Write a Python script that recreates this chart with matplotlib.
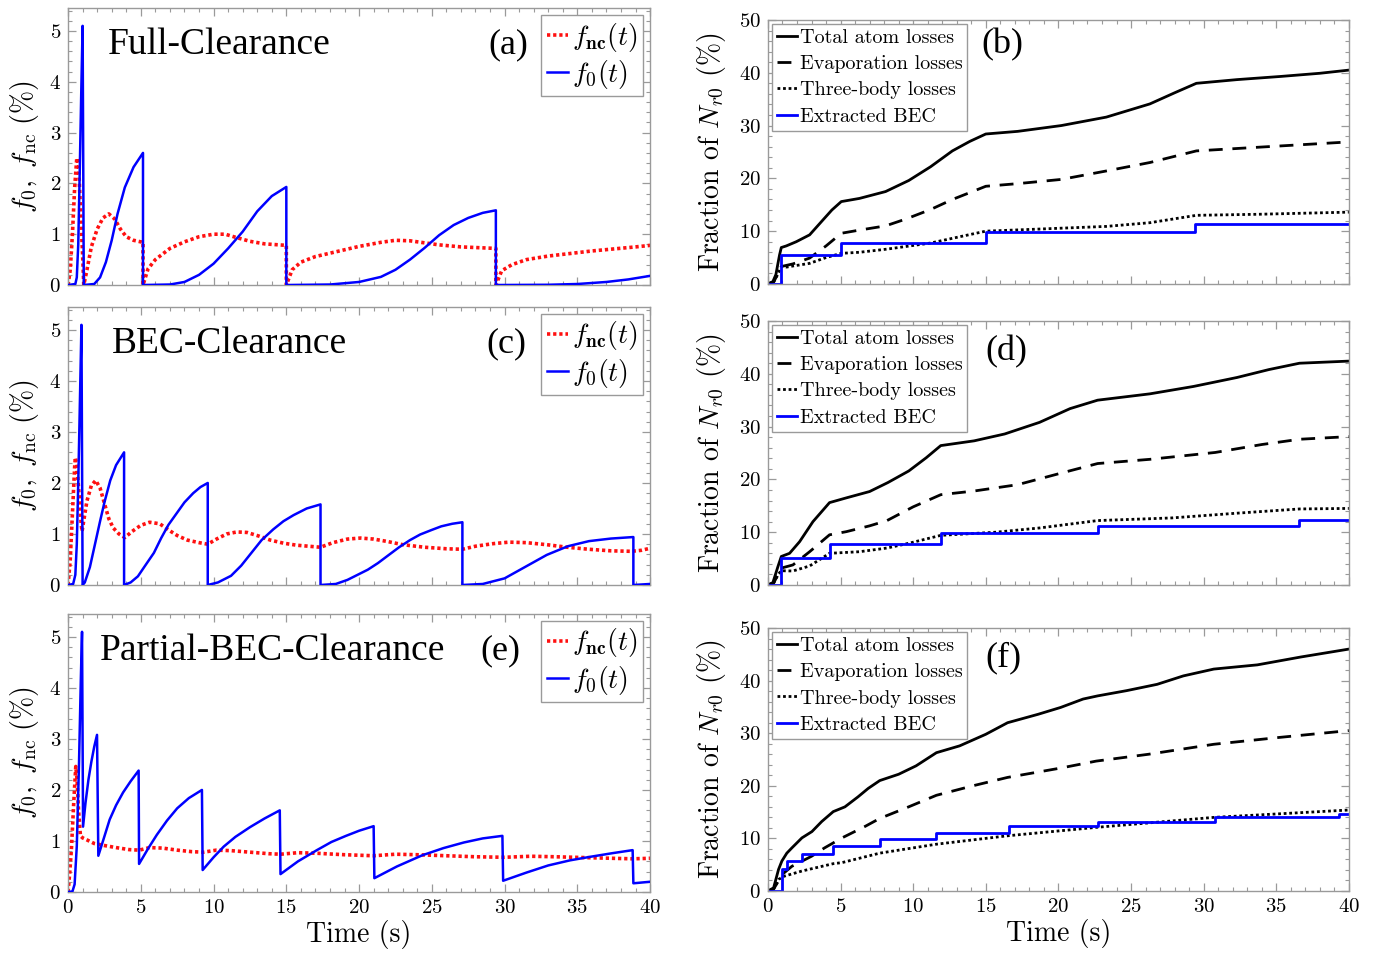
import matplotlib
matplotlib.use("Agg")
import matplotlib.pyplot as plt
from matplotlib.ticker import MultipleLocator

plt.rcParams['font.family'] = ['cmr10', 'DejaVu Serif']
plt.rcParams['mathtext.fontset'] = 'cm'
plt.rcParams['axes.formatter.use_mathtext'] = True

# ---------------- condensate / non-condensed fractions (left column) ----------------
# (a) Full-Clearance
t_a_f0 = [0, 0.5, 0.6, 0.7, 0.8, 0.9, 1.0, 1.08, 1.8, 2.2, 2.6, 3.0, 3.4, 3.9, 4.5, 5.15,
          5.15, 7.0, 8.0, 9.0, 10.0, 11.0, 12.0, 13.0, 14.0, 15.0,
          15.0, 18.0, 20.0, 21.5, 22.5, 23.5, 24.5, 25.5, 26.5, 27.5, 28.5, 29.4,
          29.4, 33.0, 35.0, 37.0, 38.5, 40.0]
f0_a = [0, 0.02, 0.15, 0.8, 2.2, 3.7, 5.1, 0, 0.02, 0.15, 0.45, 0.88, 1.4, 1.92, 2.32, 2.6,
        0, 0.01, 0.06, 0.2, 0.42, 0.72, 1.05, 1.45, 1.75, 1.93,
        0, 0.01, 0.06, 0.16, 0.3, 0.5, 0.73, 0.98, 1.18, 1.32, 1.42, 1.47,
        0, 0.005, 0.02, 0.06, 0.11, 0.18]
t_a_fnc = [0, 0.15, 0.3, 0.45, 0.6, 0.72, 0.85, 1.0, 1.08, 1.3, 1.6, 2.0, 2.4, 2.8, 3.2, 3.6,
           4.0, 4.5, 5.15, 5.15, 5.5, 6.0, 7.0, 8.0, 9.0, 10.0, 10.8, 11.5, 12.5, 13.5, 15.0,
           15.0, 15.4, 16.0, 17.0, 18.5, 20.0, 21.5, 22.5, 23.5, 24.5, 25.5, 27.0, 29.4,
           29.4, 29.8, 30.5, 31.5, 33.0, 34.5, 36.0, 37.5, 39.0, 40.0]
fnc_a = [0, 0.3, 1.0, 1.9, 2.5, 2.4, 1.5, 0.6, 0, 0.3, 0.75, 1.1, 1.32, 1.4, 1.3, 1.1,
         0.95, 0.88, 0.84, 0, 0.32, 0.5, 0.72, 0.85, 0.95, 1.0, 1.0, 0.94, 0.86, 0.81, 0.78,
         0, 0.3, 0.45, 0.56, 0.66, 0.76, 0.84, 0.88, 0.87, 0.83, 0.79, 0.75, 0.72,
         0, 0.28, 0.4, 0.5, 0.57, 0.62, 0.67, 0.71, 0.75, 0.78]

# (c) BEC-Clearance
t_c_f0 = [0, 0.35, 0.5, 0.6, 0.7, 0.8, 0.92, 1.0, 1.15, 1.5, 1.85, 2.2, 2.5, 2.9, 3.3, 3.85,
          3.85, 4.3, 4.8, 5.3, 5.9, 6.4, 6.9, 7.5, 8.0, 8.6, 9.1, 9.6,
          9.6, 10.3, 11.2, 11.9, 12.6, 13.3, 14.1, 14.8, 15.5, 16.4, 17.35,
          17.35, 18.4, 19.2, 19.9, 20.6, 21.3, 22.0, 22.75, 23.5, 24.2, 25.0, 25.65, 26.4, 27.1,
          27.1, 28.5, 30.0, 31.45, 32.9, 34.35, 35.8, 37.3, 38.85, 38.85, 40.0]
f0_c = [0, 0.02, 0.2, 0.8, 2.0, 3.4, 5.1, 0, 0.05, 0.35, 0.8, 1.25, 1.62, 2.05, 2.35, 2.6,
        0, 0.05, 0.17, 0.38, 0.63, 0.92, 1.18, 1.42, 1.62, 1.8, 1.92, 2.0,
        0, 0.05, 0.18, 0.38, 0.63, 0.88, 1.09, 1.25, 1.37, 1.5, 1.58,
        0, 0.02, 0.1, 0.2, 0.3, 0.43, 0.58, 0.74, 0.88, 0.99, 1.08, 1.15, 1.2, 1.23,
        0, 0.02, 0.13, 0.36, 0.59, 0.76, 0.86, 0.91, 0.94, 0, 0.02]
t_c_fnc = [0, 0.15, 0.3, 0.45, 0.5, 0.6, 0.75, 0.9, 0.96, 1.1, 1.3, 1.6, 1.9, 2.2, 2.5, 2.8,
           3.1, 3.5, 3.9, 4.4, 5.0, 5.6, 6.3, 6.9, 7.5, 8.2, 9.0, 9.6, 10.2, 10.9, 11.6, 12.3,
           13.1, 13.9, 14.8, 15.7, 17.35, 18.2, 19.2, 20.1, 21.0, 22.0, 23.0, 24.5, 26.0, 27.1,
           28.0, 29.2, 30.3, 31.5, 32.9, 34.3, 35.8, 37.3, 38.7, 39.4, 40.0]
fnc_c = [0, 0.5, 1.4, 2.3, 2.5, 2.35, 1.8, 1.2, 1.05, 1.3, 1.65, 1.95, 2.05, 1.9, 1.6, 1.3,
         1.12, 1.0, 0.93, 1.05, 1.17, 1.23, 1.2, 1.08, 0.97, 0.88, 0.83, 0.8, 0.9, 1.0, 1.04, 1.03,
         0.96, 0.88, 0.82, 0.78, 0.74, 0.83, 0.9, 0.92, 0.9, 0.85, 0.79, 0.74, 0.71, 0.7,
         0.76, 0.81, 0.84, 0.83, 0.79, 0.74, 0.7, 0.67, 0.66, 0.68, 0.72]

# (e) Partial-BEC-Clearance
t_e_f0 = [0, 0.3, 0.45, 0.6, 0.75, 0.88, 0.96, 1.03, 1.2, 1.4, 1.6, 1.8, 1.99, 2.08, 2.4, 2.86,
          3.3, 3.78, 4.3, 4.85, 4.88, 5.5, 6.1, 6.8, 7.5, 8.3, 9.2, 9.25, 10.0, 10.7, 11.5,
          12.5, 13.5, 14.55, 14.6, 15.8, 17.1, 18.1, 19.1, 20.0, 21.0, 21.05, 22.6, 24.35,
          25.8, 27.2, 28.5, 29.85, 29.9, 31.5, 33.0, 34.5, 35.9, 37.4, 38.8, 38.85, 40.0]
f0_e = [0, 0.01, 0.15, 0.9, 2.5, 4.2, 5.1, 1.28, 1.75, 2.2, 2.55, 2.85, 3.08, 0.71, 1.0, 1.42,
        1.7, 1.95, 2.17, 2.38, 0.55, 0.85, 1.12, 1.4, 1.64, 1.84, 2.0, 0.43, 0.68, 0.89, 1.08,
        1.27, 1.44, 1.6, 0.35, 0.6, 0.82, 0.98, 1.1, 1.2, 1.29, 0.27, 0.5, 0.72,
        0.86, 0.97, 1.05, 1.1, 0.22, 0.38, 0.52, 0.62, 0.69, 0.76, 0.82, 0.17, 0.2]
t_e_fnc = [0, 0.12, 0.23, 0.39, 0.53, 0.62, 0.72, 0.85, 1.0, 1.3, 1.8, 2.5, 3.3, 4.2, 4.9,
           5.6, 6.5, 7.5, 8.5, 9.3, 10.2, 11.2, 12.5, 13.8, 14.6, 15.8, 17.0, 19.0, 21.0, 22.5,
           24.0, 26.0, 28.0, 30.0, 31.8, 33.5, 36.0, 38.8, 40.0]
fnc_e = [0, 0.4, 0.84, 1.75, 2.46, 2.2, 1.6, 1.1, 1.06, 1.02, 0.95, 0.91, 0.87, 0.83, 0.82,
         0.87, 0.86, 0.82, 0.79, 0.78, 0.82, 0.81, 0.78, 0.75, 0.74, 0.77, 0.76, 0.73, 0.71, 0.74,
         0.73, 0.71, 0.69, 0.68, 0.7, 0.69, 0.67, 0.65, 0.66]

# ---------------- cumulative losses, fraction of N_r0 (right column) ----------------
# (b)
t_b_tot = [0, 0.34, 0.55, 0.69, 0.8, 0.92, 1.26, 1.95, 2.87, 3.78, 4.4, 5.05, 6.3, 8.1, 9.7,
           11.2, 12.7, 13.9, 15.0, 17.2, 20.2, 23.3, 26.3, 28.0, 29.5, 32.3, 35.3, 38.0, 40.0]
tot_b = [0, 0.45, 1.8, 3.9, 5.5, 6.9, 7.2, 8.0, 9.3, 12.1, 14.0, 15.6, 16.2, 17.5, 19.6,
         22.2, 25.2, 27.0, 28.4, 28.9, 30.0, 31.6, 34.1, 36.2, 38.0, 38.7, 39.3, 39.9, 40.5]
t_b_evap = [0, 0.4, 0.7, 0.92, 1.72, 2.87, 4.0, 5.05, 6.3, 8.1, 9.5, 11.2, 12.7, 15.0, 17.2,
            20.2, 23.3, 26.3, 29.5, 33.8, 40.0]
evap_b = [0, 0.4, 2.0, 3.3, 3.8, 4.9, 7.2, 9.6, 10.2, 11.0, 12.3, 14.1, 16.0, 18.5, 19.0,
          19.8, 21.4, 23.0, 25.2, 25.9, 26.9]
t_b_3b = [0, 0.4, 0.7, 0.92, 1.3, 1.72, 2.87, 4.0, 5.05, 6.3, 8.2, 11.2, 13.3, 15.0, 18.7,
          23.3, 26.3, 29.5, 33.8, 40.0]
three_b = [0, 0.4, 2.0, 3.3, 3.2, 3.4, 3.9, 5.0, 5.8, 6.0, 6.6, 7.75, 9.0, 10.0, 10.4,
           10.9, 11.6, 13.0, 13.2, 13.6]
t_b_bec = [0, 0.92, 5.05, 15.0, 29.4, 40.0]
bec_b = [0, 5.5, 7.8, 9.9, 11.3, 11.3]

# (d)
t_d_tot = [0, 0.34, 0.69, 0.92, 1.49, 2.18, 3.1, 4.24, 5.4, 7.0, 8.26, 9.7, 10.9, 11.9, 14.2,
           16.3, 18.7, 20.8, 22.7, 26.3, 29.3, 32.3, 34.5, 36.6, 40.0]
tot_d = [0, 0.45, 3.5, 5.4, 6.0, 8.2, 12.0, 15.6, 16.5, 17.7, 19.4, 21.6, 24.1, 26.4, 27.3,
         28.6, 30.8, 33.4, 35.0, 36.2, 37.6, 39.3, 40.8, 42.0, 42.4]
t_d_evap = [0, 0.4, 0.7, 0.92, 1.72, 2.87, 4.24, 5.4, 7.0, 8.2, 10.0, 11.9, 14.2, 17.2, 20.2,
            22.7, 26.3, 30.8, 34.0, 36.6, 40.0]
evap_d = [0, 0.4, 2.0, 3.2, 3.8, 6.3, 9.5, 10.1, 11.2, 12.2, 14.8, 17.1, 17.8, 19.0, 21.2,
          23.0, 23.8, 25.1, 26.6, 27.6, 28.1]
t_d_3b = [0, 0.4, 0.7, 0.92, 1.72, 2.87, 4.24, 6.3, 8.2, 9.7, 11.9, 15.7, 18.7, 22.7, 27.8,
          32.3, 36.6, 40.0]
three_d = [0, 0.4, 2.0, 2.7, 2.65, 3.6, 6.0, 6.3, 7.0, 7.9, 9.4, 10.0, 10.8, 12.2, 12.7,
           13.6, 14.4, 14.5]
t_d_bec = [0, 0.92, 4.24, 11.9, 22.7, 36.6, 40.0]
bec_d = [0, 5.1, 7.7, 9.8, 11.2, 12.3, 12.3]

# (f)
t_f_tot = [0, 0.39, 0.73, 0.96, 1.3, 1.65, 2.34, 3.03, 3.7, 4.5, 5.3, 6.2, 6.9, 7.7, 9.0,
           10.2, 11.6, 13.2, 15.0, 16.5, 18.6, 20.15, 21.7, 22.7, 24.7, 26.8, 28.6, 30.7,
           33.7, 36.7, 40.0]
tot_f = [0, 0.6, 4.1, 5.7, 7.2, 8.2, 10.1, 11.3, 13.2, 15.1, 16.0, 17.9, 19.5, 21.0, 22.2,
         23.8, 26.3, 27.6, 29.8, 32.0, 33.6, 34.9, 36.5, 37.1, 38.1, 39.3, 40.9, 42.2,
         43.0, 44.5, 46.0]
t_f_evap = [0, 0.4, 0.7, 0.96, 1.65, 3.0, 3.9, 5.1, 6.7, 7.7, 9.6, 11.6, 14.1, 16.5, 20.2,
            22.6, 26.2, 30.7, 35.2, 40.0]
evap_f = [0, 0.4, 1.8, 3.1, 4.7, 6.6, 8.2, 10.1, 12.3, 13.8, 15.9, 18.2, 20.0, 21.6, 23.4,
          24.7, 26.0, 27.9, 29.2, 30.5]
t_f_3b = [0, 0.4, 0.73, 1.1, 2.34, 4.5, 5.1, 7.7, 11.6, 16.5, 22.6, 30.7, 40.0]
three_f = [0, 0.4, 2.2, 2.8, 3.8, 5.2, 5.4, 7.2, 8.9, 10.5, 12.1, 14.0, 15.4]
t_f_bec = [0, 0.96, 1.3, 2.34, 4.5, 7.7, 11.6, 16.6, 22.7, 30.8, 39.3, 40.0]
bec_f = [0, 4.2, 5.8, 7.0, 8.5, 9.9, 11.1, 12.3, 13.2, 14.0, 14.7, 14.7]

left_titles = ['Full-Clearance', 'BEC-Clearance', 'Partial-BEC-Clearance']
left_tags = ['(a)', '(c)', '(e)']
right_tags = ['(b)', '(d)', '(f)']
loss_labels = ['Total atom losses', 'Evaporation losses', 'Three-body losses', 'Extracted BEC']

left_data = [(t_a_f0, f0_a, t_a_fnc, fnc_a),
             (t_c_f0, f0_c, t_c_fnc, fnc_c),
             (t_e_f0, f0_e, t_e_fnc, fnc_e)]
right_data = [(t_b_tot, tot_b, t_b_evap, evap_b, t_b_3b, three_b, t_b_bec, bec_b),
              (t_d_tot, tot_d, t_d_evap, evap_d, t_d_3b, three_d, t_d_bec, bec_d),
              (t_f_tot, tot_f, t_f_evap, evap_f, t_f_3b, three_f, t_f_bec, bec_f)]

FRAME = '#9a9a9a'
BLUE = '#0000ff'
RED = '#ff1010'


def style_axes(ax, xminor, ymajor, yminor, show_x):
    for sp in ax.spines.values():
        sp.set_color(FRAME)
        sp.set_linewidth(1.0)
    ax.xaxis.set_major_locator(MultipleLocator(5))
    ax.xaxis.set_minor_locator(MultipleLocator(xminor))
    ax.yaxis.set_major_locator(MultipleLocator(ymajor))
    ax.yaxis.set_minor_locator(MultipleLocator(yminor))
    ax.tick_params(which='both', direction='in', top=True, right=True, color=FRAME,
                   labelsize=15, pad=5)
    ax.tick_params(which='major', length=6, width=0.9)
    ax.tick_params(which='minor', length=3, width=0.8)
    if not show_x:
        ax.tick_params(axis='x', labelbottom=False)


fig = plt.figure(figsize=(13.75, 9.59), dpi=100)

left_pos = [[0.0495, 0.7028, 0.4233, 0.2888],
            [0.0495, 0.3900, 0.4233, 0.2899],
            [0.0495, 0.0699, 0.4233, 0.2899]]
right_pos = [[0.5585, 0.7039, 0.4225, 0.2753],
             [0.5585, 0.3900, 0.4225, 0.2753],
             [0.5585, 0.0709, 0.4225, 0.2742]]

for i in range(3):
    t0, f0, tn, fn = left_data[i]
    ax = fig.add_axes(left_pos[i])
    ax.plot(tn, fn, color=RED, lw=2.6, linestyle=(0, (0.9, 0.8)),
            dash_capstyle='butt', label=r'$f_{\mathbf{nc}}(t)$', zorder=2)
    ax.plot(t0, f0, color=BLUE, lw=1.8, label=r'$f_0(t)$', zorder=3)
    ax.set_xlim(0, 40)
    ax.set_ylim(0, 5.45)
    style_axes(ax, 1, 1, 0.2, i == 2)
    ax.set_ylabel(r'$f_0,\ f_{\rm nc}\ (\%)$', fontsize=20, labelpad=6)
    ax.text(0.069 if i == 0 else (0.076 if i == 1 else 0.055), 0.868, left_titles[i],
            transform=ax.transAxes, family='Liberation Serif', fontsize=27,
            ha='left', va='center')
    ax.text([0.756, 0.753, 0.742][i], 0.868, left_tags[i], transform=ax.transAxes,
            family='Liberation Serif', fontsize=26, ha='center', va='center')
    leg = ax.legend(loc='upper right', fontsize=20, handlelength=0.75, handletextpad=0.15,
                    borderpad=0.2, labelspacing=0.15, borderaxespad=0.25, fancybox=False,
                    framealpha=1)
    leg.get_frame().set_edgecolor(FRAME)
    leg.get_frame().set_linewidth(1.0)
    if i == 2:
        ax.set_xlabel('Time (s)', fontsize=20, labelpad=2)

for i in range(3):
    tt, tot, te, ev, t3, th, tb, bec = right_data[i]
    ax = fig.add_axes(right_pos[i])
    ax.plot(tt, tot, color='black', lw=2.0, label=loss_labels[0])
    ax.plot(te, ev, color='black', lw=2.0, linestyle=(0, (5, 3.5)), label=loss_labels[1])
    ax.plot(t3, th, color='black', lw=2.0, linestyle=(0, (1, 1)), label=loss_labels[2])
    ax.plot(tb, bec, color=BLUE, lw=2.0, drawstyle='steps-post', label=loss_labels[3])
    ax.set_xlim(0, 40)
    ax.set_ylim(0, 50)
    style_axes(ax, 1, 10, 2, i == 2)
    ax.set_ylabel(r'Fraction of $N_{r0}$ (%)', fontsize=20, labelpad=8)
    ax.text([0.403, 0.41, 0.405][i], [0.905, 0.883, 0.886][i], right_tags[i],
            transform=ax.transAxes, family='Liberation Serif', fontsize=26,
            ha='center', va='center')
    leg = ax.legend(loc='upper left', fontsize=14.5, handlelength=1.0, handletextpad=0.12,
                    borderpad=0.25, labelspacing=0.4, borderaxespad=0.2, fancybox=False,
                    framealpha=1)
    leg.get_frame().set_edgecolor(FRAME)
    leg.get_frame().set_linewidth(1.0)
    if i == 2:
        ax.set_xlabel('Time (s)', fontsize=20, labelpad=2)

fig.savefig('out.png', dpi=100)
